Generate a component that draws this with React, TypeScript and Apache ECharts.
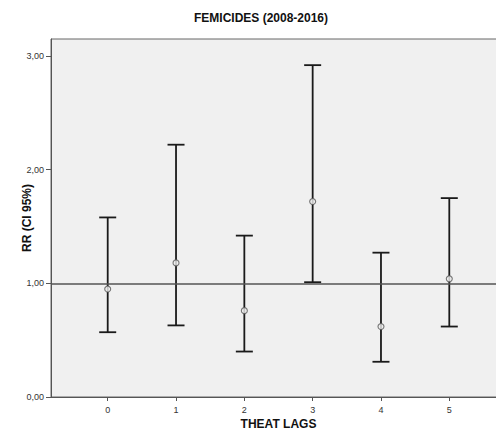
import React, { useEffect, useRef } from "react";
import * as echarts from "echarts";

const lags = [0, 1, 2, 3, 4, 5];
const rr = [0.95, 1.18, 0.76, 1.72, 0.62, 1.04];
const ciLow = [0.57, 0.63, 0.4, 1.01, 0.31, 0.62];
const ciHigh = [1.58, 2.22, 1.42, 2.92, 1.27, 1.75];
const yTicks = [0, 1, 2, 3];
const referenceRR = 1;

export default function App() {
  const ref = useRef<HTMLDivElement>(null);
  useEffect(() => {
    if (!ref.current) return;
    const chart = echarts.init(ref.current, undefined, { renderer: "svg" });
    const font = "'Liberation Sans', Arial, sans-serif";
    chart.setOption({
      animation: false,
      backgroundColor: "#ffffff",
      title: {
        text: "FEMICIDES (2008-2016)",
        left: 256,
        textAlign: "center",
        top: 7,
        textStyle: { fontFamily: font, fontSize: 12, fontWeight: "bold", color: "#111" },
      },
      grid: {
        left: 51,
        top: 39,
        width: 455,
        bottom: 34,
        outerBoundsMode: "none",
        containLabel: false,
        show: true,
        backgroundColor: "#f0f0f0",
        borderColor: "#666",
        borderWidth: 1,
      },
      xAxis: {
        type: "value",
        min: -0.83,
        max: 5.83,
        name: "THEAT LAGS",
        nameLocation: "middle",
        nameGap: 21,
        nameMoveOverlap: false,
        nameTextStyle: { fontFamily: font, fontSize: 12, fontWeight: "bold", color: "#111" },
        axisLine: { show: true, onZero: false, lineStyle: { color: "#555", width: 1 } },
        axisTick: { show: true, length: 4, lineStyle: { color: "#555" }, customValues: lags },
        axisLabel: {
          customValues: lags,
          margin: 8,
          fontFamily: font,
          fontSize: 9,
          color: "#333",
          formatter: (v: number) => String(v),
        },
        splitLine: { show: false },
      },
      yAxis: {
        type: "value",
        min: 0,
        max: 3.15,
        name: "RR (CI 95%)",
        nameLocation: "middle",
        nameGap: 18,
        nameMoveOverlap: false,
        nameRotate: 90,
        nameTextStyle: { fontFamily: font, fontSize: 12, fontWeight: "bold", color: "#111" },
        axisLine: { show: true, onZero: false, lineStyle: { color: "#555", width: 1 } },
        axisTick: { show: true, length: 5, lineStyle: { color: "#555" }, customValues: yTicks },
        axisLabel: {
          customValues: yTicks,
          margin: 7,
          fontFamily: font,
          fontSize: 9,
          color: "#333",
          formatter: (v: number) => v.toFixed(2).replace(".", ","),
        },
        splitLine: { show: false },
      },
      series: [
        {
          type: "custom",
          data: lags.map((x, i) => [x, ciLow[i], ciHigh[i]]),
          encode: { x: 0, y: [1, 2] },
          z: 3,
          renderItem: (params: any, api: any) => {
            const x = api.value(0);
            const lo = api.coord([x, api.value(1)]);
            const hi = api.coord([x, api.value(2)]);
            const hw = 8.5;
            const style = { stroke: "#1a1a1a", lineWidth: 1.8 };
            return {
              type: "group",
              children: [
                { type: "line", shape: { x1: lo[0], y1: lo[1], x2: hi[0], y2: hi[1] }, style },
                { type: "line", shape: { x1: hi[0] - hw, y1: hi[1], x2: hi[0] + hw, y2: hi[1] }, style },
                { type: "line", shape: { x1: lo[0] - hw, y1: lo[1], x2: lo[0] + hw, y2: lo[1] }, style },
              ],
            };
          },
          markLine: {
            silent: true,
            symbol: "none",
            label: { show: false },
            lineStyle: { color: "#555", width: 1.5, type: "solid" },
            data: [{ yAxis: referenceRR }],
          },
        },
        {
          type: "scatter",
          data: lags.map((x, i) => [x, rr[i]]),
          symbol: "circle",
          symbolSize: 6,
          z: 4,
          itemStyle: { color: "#f0f0f0", borderColor: "#555", borderWidth: 1.1 },
        },
      ],
    });
    return () => chart.dispose();
  }, []);
  return (
    <div
      ref={ref}
      style={{ position: "fixed", left: 0, top: 0, width: 496, height: 431 }}
    />
  );
}
